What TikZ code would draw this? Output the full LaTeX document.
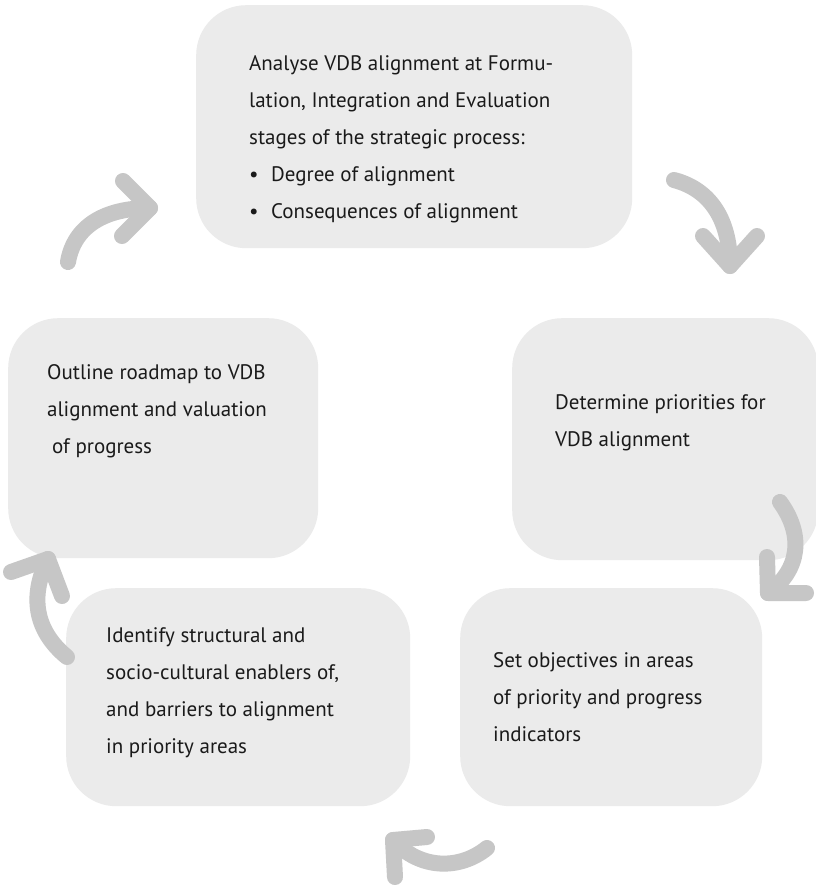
\documentclass[tikz,border=0pt]{standalone}
\usepackage{fontspec}
\setmainfont{PT Sans}
\definecolor{boxgray}{HTML}{EBEBEB}
\definecolor{arrgray}{HTML}{C6C6C6}
\definecolor{txt}{HTML}{1A1A1A}
\begin{document}
\begin{tikzpicture}[x=1pt,y=-1pt,
  box/.style={fill=boxgray, draw=none, rounded corners=50pt, anchor=north west, inner sep=0pt},
  label/.style={anchor=north west, inner sep=0pt, align=left, text=txt,
     font=\fontsize{21}{37}\selectfont},
  shaft/.style={draw=arrgray, line width=16pt, line cap=round},
  head/.style={draw=arrgray, line width=16pt, line cap=round, line join=round}]
\useasboundingbox (0,0) rectangle (816,887);
\fill[white] (0,0) rectangle (816,887);
% boxes
\node[box, minimum width=436pt, minimum height=243pt] (b1) at (196,5) {};
\node[box, minimum width=306pt, minimum height=242pt] (b2) at (512,318) {};
\node[box, minimum width=310pt, minimum height=240pt] (b5) at (8,318) {};
\node[box, minimum width=344pt, minimum height=218pt] (b4) at (66,588) {};
\node[box, minimum width=302pt, minimum height=218pt] (b3) at (460,588) {};
% texts
\node[label] (t1) at (249,55) {Analyse VDB alignment at Formu-\\lation, Integration and Evaluation\\stages of the strategic process:\\%
\makebox[22pt][l]{•}Degree of alignment\\\makebox[22pt][l]{•}Consequences of alignment};
\node[label] (t5) at (47,364) {Outline roadmap to VDB\\alignment and valuation\\\hspace*{5pt}of progress};
\node[label] (t2) at (555,394) {Determine priorities for\\VDB alignment};
\node[label] (t4) at (106,627) {Identify structural and\\socio-cultural enablers of,\\and barriers to alignment\\in priority areas};
\node[label] (t3) at (493,652) {Set objectives in areas\\of priority and progress\\indicators};
% arrows
\coordinate (a1s) at (68,262); \coordinate (a1t) at (150,208);
\draw[shaft] (a1s) .. controls (74,226) and (105,208) .. (a1t);
\draw[head] (123,181) -- (a1t) -- (122,236);
\coordinate (a2s) at (674,180); \coordinate (a2t) at (730,266);
\draw[shaft] (a2s) .. controls (712,190) and (730,222) .. (a2t);
\draw[head] (703,236) -- (a2t) -- (757,236);
\coordinate (a3s) at (780,502); \coordinate (a3t) at (768,593);
\draw[shaft] (a3s) .. controls (804,535) and (800,570) .. (a3t);
\draw[head] (767,557) -- (a3t) -- (806,593);
\coordinate (a4s) at (487,848); \coordinate (a4t) at (393,840);
\draw[shaft] (a4s) .. controls (460,870) and (420,870) .. (a4t);
\draw[head] (427,837) -- (a4t) -- (395,877);
\coordinate (a5s) at (67,657); \coordinate (a5t) at (48,559);
\draw[shaft] (a5s) .. controls (34,630) and (30,595) .. (a5t);
\draw[head] (11,572) -- (a5t) -- (62,596);
\end{tikzpicture}
\end{document}
